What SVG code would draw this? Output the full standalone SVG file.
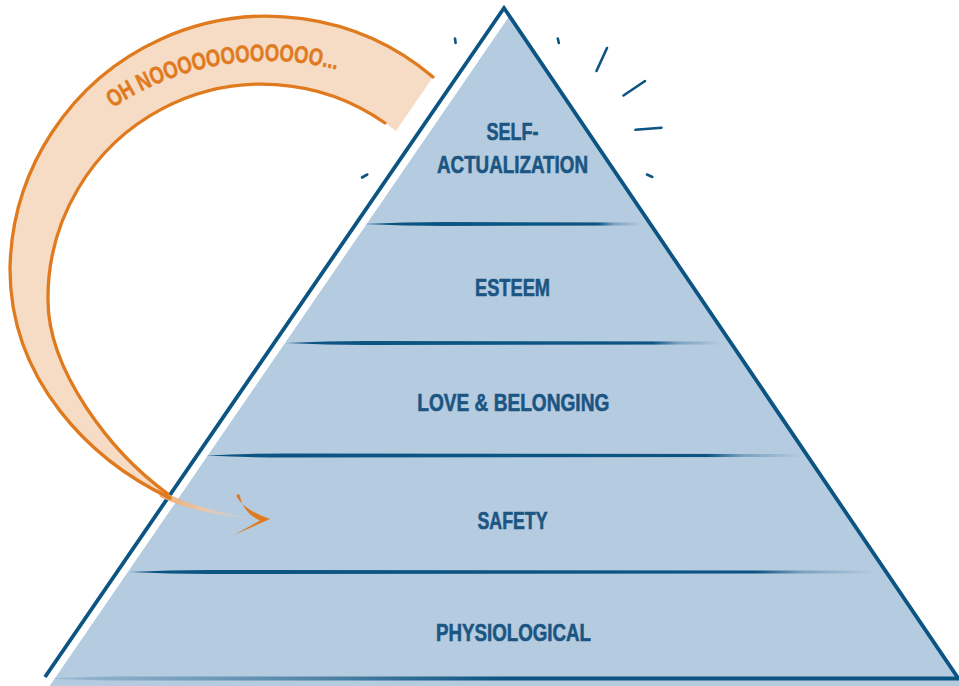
<svg xmlns="http://www.w3.org/2000/svg" width="959" height="686" viewBox="0 0 959 686">
  <defs>
    <style>
      .tier-fill { fill: #b5cbdf; }
      .outline { fill: none; stroke: #0c5482; stroke-width: 3.8; stroke-linejoin: miter; stroke-linecap: butt; }
      .rule { fill: url(#fadeRight); }
      .rule-base { fill: url(#fadeLeft); }
      .label { font-family: "Liberation Sans", Arial, sans-serif; font-weight: bold; font-size: 24px; fill: #1b5582; stroke: #1b5582; stroke-width: 0.6; text-anchor: middle; }
      .ray { stroke: #0c5482; stroke-width: 2.6; stroke-linecap: round; fill: none; }
      .band { fill: #f6dcc5; }
      .band-edge { fill: none; stroke: #e07a1f; stroke-width: 3.3; stroke-linecap: round; }
      .shout { font-family: "Liberation Sans", Arial, sans-serif; font-weight: bold; font-size: 24px; fill: #e07a1f; stroke: #e07a1f; stroke-width: 0.5; }
      .chevron { fill: #e07a1f; }
    </style>
    <linearGradient id="fadeRight" x1="0" y1="0" x2="1" y2="0">
      <stop offset="0" stop-color="#0c5482" stop-opacity="1"/>
      <stop offset="0.84" stop-color="#0c5482" stop-opacity="1"/>
      <stop offset="0.9" stop-color="#0c5482" stop-opacity="0.35"/>
      <stop offset="1" stop-color="#0c5482" stop-opacity="0"/>
    </linearGradient>
    <linearGradient id="fadeLeft" x1="0" y1="0" x2="1" y2="0">
      <stop offset="0" stop-color="#0c5482" stop-opacity="0.15"/>
      <stop offset="0.3" stop-color="#0c5482" stop-opacity="0.6"/>
      <stop offset="0.5" stop-color="#0c5482" stop-opacity="1"/>
      <stop offset="1" stop-color="#0c5482" stop-opacity="1"/>
    </linearGradient>
    <linearGradient id="tailFade" gradientUnits="userSpaceOnUse" x1="160" y1="0" x2="258" y2="0">
      <stop offset="0" stop-color="#eea469" stop-opacity="0.95"/>
      <stop offset="0.45" stop-color="#f3c79e" stop-opacity="0.8"/>
      <stop offset="1" stop-color="#f6dcc5" stop-opacity="0"/>
    </linearGradient>
    <path id="shoutArc" d="M 96.2 120.1 A 279 279 0 0 1 363.4 77.8"/>
  </defs>

  <!-- pyramid body -->
  <g id="pyramid">
    <polygon class="tier-fill" points="509.4,16 963.7,686 49.6,686"/>
    <polyline class="outline" points="45,677 504,8 958,678"/>
  </g>

  <!-- brush rules dividing the tiers -->
  <g id="rules">
    <path class="rule" d="M 364 224 Q 404 221.9 444 221.9 L 642 222.6 L 642 225.4 L 444 226.1 Q 404 226.1 364 224 Z"/>
    <path class="rule" d="M 286 343 Q 326 340.9 366 340.9 L 722 341.6 L 722 344.4 L 366 345.1 Q 326 345.1 286 343 Z"/>
    <path class="rule" d="M 206 455.5 Q 246 453.4 286 453.4 L 802 454.1 L 802 456.9 L 286 457.6 Q 246 457.6 206 455.5 Z"/>
    <path class="rule" d="M 129 572 Q 169 569.9 209 569.9 L 876 570.6 L 876 573.4 L 209 574.1 Q 169 574.1 129 572 Z"/>
    <path class="rule-base" d="M 48 678.5 Q 80 677 120 676.6 L 960 676.6 L 960 680.4 L 120 680.4 Q 80 680 48 678.5 Z"/>
  </g>

  <!-- tier labels -->
  <g id="tier-self-actualization">
    <text class="label" x="512.5" y="140" textLength="52" lengthAdjust="spacingAndGlyphs">SELF-</text>
    <text class="label" x="512.5" y="173" textLength="151" lengthAdjust="spacingAndGlyphs">ACTUALIZATION</text>
  </g>
  <g id="tier-esteem">
    <text class="label" x="512.5" y="296" textLength="75" lengthAdjust="spacingAndGlyphs">ESTEEM</text>
  </g>
  <g id="tier-love-belonging">
    <text class="label" x="513.3" y="411" textLength="192" lengthAdjust="spacingAndGlyphs">LOVE &amp; BELONGING</text>
  </g>
  <g id="tier-safety">
    <text class="label" x="512.5" y="528.5" textLength="70" lengthAdjust="spacingAndGlyphs">SAFETY</text>
  </g>
  <g id="tier-physiological">
    <text class="label" x="513.5" y="640.5" textLength="155" lengthAdjust="spacingAndGlyphs">PHYSIOLOGICAL</text>
  </g>

  <!-- glow ticks around the apex -->
  <g id="rays">
    <line class="ray" x1="455" y1="38.5" x2="455.6" y2="43"/>
    <line class="ray" x1="557.8" y1="38.5" x2="558.8" y2="43"/>
    <line class="ray" x1="607" y1="48" x2="596.5" y2="71"/>
    <line class="ray" x1="645" y1="81" x2="623.5" y2="95.5"/>
    <line class="ray" x1="661.5" y1="127.7" x2="635.5" y2="129.8"/>
    <line class="ray" x1="647" y1="174.5" x2="652.3" y2="177"/>
    <line class="ray" x1="362" y1="177.5" x2="367.3" y2="174.5"/>
  </g>

  <!-- curved "oh no" arrow falling from the top tier -->
  <g id="connectors">
    <path class="band" d="M 433 77 A 257 257 0 0 0 10 269 C 10 380 90 460 170 498 C 110 452 48 370 48 300 A 214 214 0 0 1 396 131 Z"/>
    <path d="M 158 489 C 190 506 222 514 257 518.5 C 222 517 188 510 160 497 Z" fill="url(#tailFade)"/>
    <path class="band-edge" d="M 433 77 A 257 257 0 0 0 10 269 C 10 380 90 460 170 498"/>
    <path class="band-edge" d="M 385 123 A 214 214 0 0 0 48 300 C 48 370 110 452 168 494"/>
    <text class="shout"><textPath href="#shoutArc" startOffset="20.5" textLength="234" lengthAdjust="spacingAndGlyphs">OH NOOOOOOOOOOOO...</textPath></text>
    <path class="chevron" d="M 236.5 496 C 240 504 252 513 270 519 L 234 535 L 260 520.5 C 250 516 242 508 239.8 495.3 C 239 493.8 236.8 494 236.5 496 Z"/>
  </g>
</svg>
